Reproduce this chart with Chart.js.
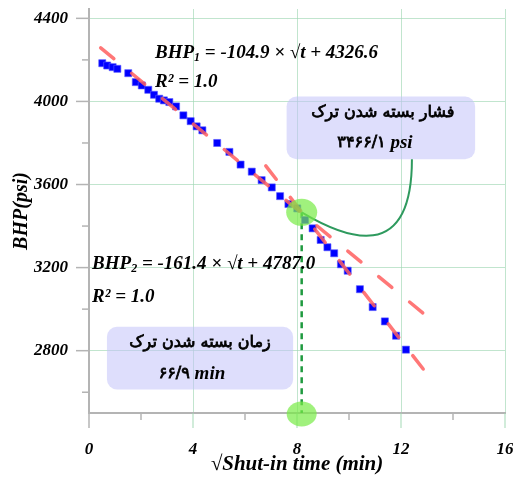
<!DOCTYPE html>
<html>
<head>
<meta charset="utf-8">
<script src="https://cdn.jsdelivr.net/npm/chart.js@4.4.1/dist/chart.umd.min.js"></script>
<style>
    html, body { margin: 0; padding: 0; background: #fff; }
</style>
</head>
<body>
<canvas id="bhpChart" width="513" height="477"></canvas>
<script>
// shut-in data
const sqrtTime = [0.51, 0.70, 0.91, 1.09, 1.51, 1.80, 2.03, 2.28, 2.50, 2.70, 2.88, 3.09, 3.35, 3.63, 3.91, 4.14, 4.36,
    4.93, 5.40, 5.83, 6.26, 6.64, 7.03, 7.35, 7.67, 8.01, 8.31, 8.60, 8.91, 9.17, 9.43, 9.69, 9.95, 10.42, 10.91,
    11.38, 11.81, 12.19];
const bhp = [4184, 4173, 4165, 4157, 4136, 4093, 4077, 4056, 4032, 4013, 4005, 3997, 3976, 3933, 3905, 3880, 3861,
    3800, 3757, 3696, 3662, 3621, 3586, 3544, 3506, 3485, 3429, 3389, 3333, 3298, 3269, 3216, 3185, 3096, 3010,
    2941, 2872, 2805];

// trend line end points
const fit1X = [0.45, 13.15];
const fit1Y = [4258, 2950];
const fit2X = [6.8, 13.1];
const fit2Y = [3690, 2672];

// crack closure point
const closureX = 8.18;
const closureY = 3466.1;

const xTicks = [0, 4, 8, 12, 16];
const xMinor = [2, 6, 10, 14];
const yTicks = [2800, 3200, 3600, 4000, 4400];
const yMinor = [2600, 3000, 3400, 3800, 4200];

const serif = "'Liberation Serif', 'DejaVu Sans', serif";
const gridColor = 'rgba(160, 215, 180, 0.65)';
const axisColor = '#b4b4b4';

// draws a row of text pieces with different fonts
function drawRuns(c, runs, x, y, align) {
    let total = 0;
    runs.forEach(r => { c.font = r.font; r.w = c.measureText(r.text).width; total += r.w; });
    let cx = align === 'center' ? x - total / 2 : x;
    runs.forEach(r => {
        c.font = r.font;
        c.fillText(r.text, cx, y + (r.dy || 0));
        if (r.heavy) c.strokeText(r.text, cx, y + (r.dy || 0));
        cx += r.w;
    });
}

function roundBox(c, x1, y1, x2, y2, rad) {
    c.beginPath();
    c.moveTo(x1 + rad, y1);
    c.arcTo(x2, y1, x2, y2, rad);
    c.arcTo(x2, y2, x1, y2, rad);
    c.arcTo(x1, y2, x1, y1, rad);
    c.arcTo(x1, y1, x2, y1, rad);
    c.closePath();
    c.fill();
}

const decorPlugin = {
    id: 'decor',
    beforeDatasetsDraw(chart) {
        const c = chart.ctx;
        const xs = chart.scales.x, ys = chart.scales.y;
        const area = chart.chartArea;

        // tick marks
        c.save();
        c.lineWidth = 1.5;
        c.strokeStyle = axisColor;
        yTicks.concat(yMinor).forEach(v => {
            const py = ys.getPixelForValue(v);
            const len = yTicks.includes(v) ? 13 : 7;
            c.beginPath(); c.moveTo(area.left - len, py); c.lineTo(area.left, py); c.stroke();
        });
        xTicks.concat(xMinor).forEach(v => {
            const px = xs.getPixelForValue(v);
            const len = xTicks.includes(v) ? 15 : 7;
            c.strokeStyle = (xTicks.includes(v) && v !== 0) ? gridColor : axisColor;
            c.beginPath(); c.moveTo(px, area.bottom); c.lineTo(px, area.bottom + len); c.stroke();
        });

        // callout boxes
        c.fillStyle = 'rgba(195, 195, 250, 0.55)';
        roundBox(c, xs.getPixelForValue(7.6), ys.getPixelForValue(4024), xs.getPixelForValue(14.85), ys.getPixelForValue(3722), 10);
        roundBox(c, xs.getPixelForValue(0.69), ys.getPixelForValue(2915), xs.getPixelForValue(7.85), ys.getPixelForValue(2613), 10);
        c.restore();
    },
    afterDatasetsDraw(chart) {
        const c = chart.ctx;
        const xs = chart.scales.x, ys = chart.scales.y;
        const px = xs.getPixelForValue(closureX);
        const py = ys.getPixelForValue(closureY);
        c.save();

        // connector from the closure point to the box
        c.strokeStyle = '#2e9a5e';
        c.lineWidth = 2;
        c.beginPath();
        c.moveTo(px, py);
        c.bezierCurveTo(xs.getPixelForValue(9.85), ys.getPixelForValue(3342),
            xs.getPixelForValue(12.42), ys.getPixelForValue(3210),
            xs.getPixelForValue(12.42), ys.getPixelForValue(3722));
        c.stroke();

        // highlight ellipses
        c.fillStyle = 'rgba(120, 235, 70, 0.7)';
        c.beginPath(); c.ellipse(px, py, 15.5, 13.5, 0, 0, Math.PI * 2); c.fill();
        c.beginPath(); c.ellipse(px, chart.chartArea.bottom + 1, 15, 12.5, 0, 0, Math.PI * 2); c.fill();

        // equations
        c.fillStyle = '#000';
        c.strokeStyle = '#000';
        c.lineWidth = 0.8;
        c.textBaseline = 'middle';
        c.textAlign = 'left';
        const bi = sz => `bold italic ${sz}px ${serif}`;
        drawRuns(c, [{ text: 'BHP', font: bi(19) }, { text: '1', font: bi(12), dy: 5 },
            { text: ' = -104.9 × √t + 4326.6', font: bi(19) }], xs.getPixelForValue(2.54), ys.getPixelForValue(4235));
        drawRuns(c, [{ text: 'R² = 1.0', font: bi(19) }], xs.getPixelForValue(2.54), ys.getPixelForValue(4091));
        drawRuns(c, [{ text: 'BHP', font: bi(19) }, { text: '2', font: bi(12), dy: 5 },
            { text: ' = -161.4 × √t + 4787.0', font: bi(19) }], xs.getPixelForValue(0.12), ys.getPixelForValue(3218));
        drawRuns(c, [{ text: 'R² = 1.0', font: bi(19) }], xs.getPixelForValue(0.12), ys.getPixelForValue(3059));

        // box texts (Persian)
        const fa = `16px 'DejaVu Sans', sans-serif`;
        c.direction = 'rtl';
        c.textAlign = 'center';
        c.font = fa;
        [['فشار بسته شدن ترک', 11.3, 3945], ['زمان بسته شدن ترک', 4.27, 2838]].forEach(t => {
            c.fillText(t[0], xs.getPixelForValue(t[1]), ys.getPixelForValue(t[2]));
            c.strokeText(t[0], xs.getPixelForValue(t[1]), ys.getPixelForValue(t[2]));
        });
        c.direction = 'ltr';
        c.textAlign = 'left';
        drawRuns(c, [{ text: '۳۴۶۶/۱', font: fa, heavy: true }, { text: ' psi', font: bi(19) }], xs.getPixelForValue(11.0), ys.getPixelForValue(3801), 'center');
        drawRuns(c, [{ text: '۶۶/۹', font: fa, heavy: true }, { text: ' min', font: bi(19) }], xs.getPixelForValue(3.96), ys.getPixelForValue(2688), 'center');
        c.restore();
    }
};

const ctx = document.getElementById('bhpChart').getContext('2d');
new Chart(ctx, {
    type: 'scatter',
    data: {
        datasets: [
            {
                label: 'BHP',
                data: sqrtTime.map((x, i) => ({ x: x, y: bhp[i] })),
                pointStyle: 'rect',
                pointRadius: 5,
                backgroundColor: '#0000ff',
                borderColor: 'rgba(90, 90, 255, 0.6)',
                borderWidth: 1,
                order: 2
            },
            {
                type: 'line',
                label: 'Fit 1',
                data: fit1X.map((x, i) => ({ x: x, y: fit1Y[i] })),
                borderColor: 'rgba(255, 95, 95, 0.85)',
                borderWidth: 3.5,
                borderDash: [17, 23],
                borderCapStyle: 'round',
                pointRadius: 0,
                order: 1
            },
            {
                type: 'line',
                label: 'Fit 2',
                data: fit2X.map((x, i) => ({ x: x, y: fit2Y[i] })),
                borderColor: 'rgba(255, 95, 95, 0.85)',
                borderWidth: 3.5,
                borderDash: [17, 23],
                borderCapStyle: 'round',
                pointRadius: 0,
                order: 1
            },
            {
                type: 'line',
                label: 'Closure',
                data: [{ x: closureX, y: closureY }, { x: closureX, y: 2500 }],
                borderColor: '#1f9a3f',
                borderWidth: 2.5,
                borderDash: [6, 5],
                pointRadius: 0,
                order: 3
            }
        ]
    },
    options: {
        responsive: false,
        animation: false,
        layout: { padding: { top: 9, right: 8, left: 0, bottom: 0 } },
        plugins: {
            legend: { display: false },
            tooltip: { enabled: false }
        },
        scales: {
            x: {
                type: 'linear',
                min: 0,
                max: 16,
                afterBuildTicks: s => { s.ticks = xTicks.map(v => ({ value: v })); },
                afterFit: s => { s.height = 64; s.paddingLeft = 0; s.paddingRight = 0; },
                grid: {
                    color: c => c.tick && c.tick.value === 0 ? 'transparent' : gridColor,
                    drawTicks: false
                },
                border: { color: axisColor, width: 2 },
                ticks: {
                    color: '#000',
                    padding: 26,
                    callback: v => String(v),
                    font: { family: serif, size: 17, weight: 'bold', style: 'italic' }
                },
                title: {
                    display: true,
                    text: '√Shut-in time (min)',
                    color: '#000',
                    padding: { top: 0, bottom: 0 },
                    font: { family: serif, size: 21, weight: 'bold', style: 'italic' }
                }
            },
            y: {
                type: 'linear',
                min: 2500,
                max: 4445,
                afterBuildTicks: s => { s.ticks = yTicks.map(v => ({ value: v })); },
                afterFit: s => { s.width = 89; s.paddingTop = 0; s.paddingBottom = 0; },
                grid: {
                    color: gridColor,
                    drawTicks: false
                },
                border: { color: axisColor, width: 2 },
                ticks: {
                    color: '#000',
                    padding: 21,
                    callback: v => String(v),
                    font: { family: serif, size: 17, weight: 'bold', style: 'italic' }
                },
                title: {
                    display: true,
                    text: 'BHP(psi)',
                    color: '#000',
                    padding: { top: 10, bottom: 0 },
                    font: { family: serif, size: 20, weight: 'bold', style: 'italic' }
                }
            }
        }
    },
    plugins: [decorPlugin]
});
</script>
</body>
</html>
